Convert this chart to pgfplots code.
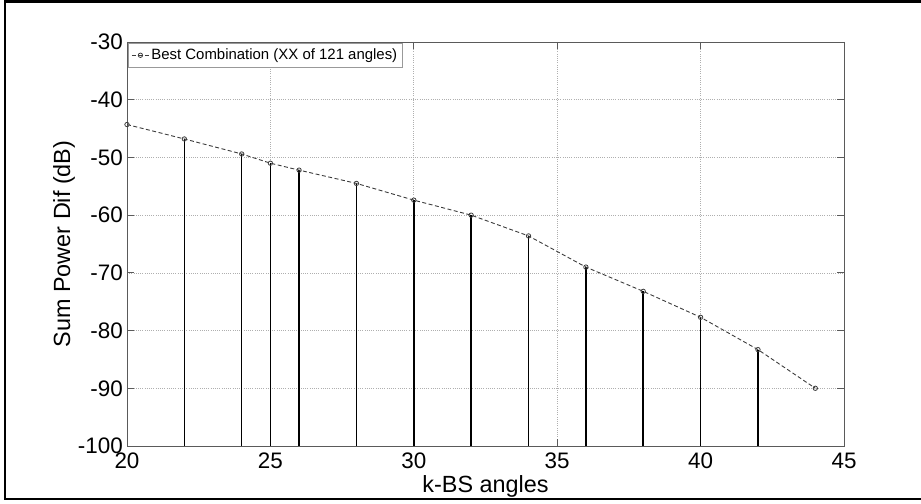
\documentclass[border=0pt]{standalone}
\usepackage{fontspec}
\setmainfont{Liberation Sans}
\usepackage{pgfplots}
\pgfplotsset{compat=1.18}

\definecolor{axisgray}{RGB}{90,90,90}
\definecolor{linegray}{RGB}{60,60,60}
\definecolor{gridgray}{RGB}{175,175,175}

\begin{document}
\begin{tikzpicture}
\path[use as bounding box] (0bp,0bp) rectangle (921bp,504bp);
% outer frame (open on the right)
\draw[line width=2.2bp,black] (921bp,502.5bp) -- (5bp,502.5bp) -- (5bp,5bp) -- (921bp,5bp);

\begin{axis}[
  at={(127bp,58bp)}, anchor=south west,
  scale only axis, width=717bp, height=404bp,
  xmin=20, xmax=45, ymin=-100, ymax=-30,
  xtick={20,25,...,45}, ytick={-100,-90,...,-30},
  tick align=inside, major tick length=7bp,
  axis line style={axisgray, line width=0.9bp},
  tick style={axisgray, line width=0.8bp},
  grid=major,
  major grid style={gridgray, dash pattern=on 0.8bp off 1.4bp, line width=0.7bp},
  /pgf/number format/assume math mode=true,
  ticklabel style={font=\fontsize{22.5}{26}\selectfont, inner sep=0pt},
  xticklabel style={anchor=north, yshift=-7bp},
  yticklabel style={anchor=east, xshift=-4bp},
  xlabel={k-BS angles},
  ylabel={Sum Power Dif (dB)},
  label style={font=\fontsize{23.5}{27}\selectfont, inner sep=0pt},
  xlabel style={at={(axis description cs:0.5,-0.1139)}, anchor=base},
  ylabel style={at={(axis description cs:-0.0795,0.5)}, anchor=base, rotate=0},
  unbounded coords=jump,
  legend style={at={(axis description cs:0.0015,0.997)}, anchor=north west,
    draw=gray!80, line width=0.8bp, fill=white,
    font=\fontsize{15}{18}\selectfont, inner xsep=3bp, inner ysep=3.5bp,
    row sep=0pt},
  legend cell align=left,
]
% stems from the bottom of the axis up to each value
\addplot[black, line width=1.5bp, forget plot] coordinates {
  (22,-100) (22,-46.8) (22,nan)
  (24,-100) (24,-49.4) (24,nan)
  (25,-100) (25,-51.0) (25,nan)
  (26,-100) (26,-52.2) (26,nan)
  (28,-100) (28,-54.5) (28,nan)
  (30,-100) (30,-57.4) (30,nan)
  (32,-100) (32,-60.0) (32,nan)
  (34,-100) (34,-63.6) (34,nan)
  (36,-100) (36,-69.0) (36,nan)
  (38,-100) (38,-73.2) (38,nan)
  (40,-100) (40,-77.7) (40,nan)
  (42,-100) (42,-83.3)
};
% best combination curve
\addplot[linegray, line width=0.9bp, dash pattern=on 4bp off 2.5bp,
  mark=o, mark size=2.2bp, mark options={solid, line width=0.8bp}] coordinates {
  (20,-44.3) (22,-46.8) (24,-49.4) (25,-51.0) (26,-52.2) (28,-54.5)
  (30,-57.4) (32,-60.0) (34,-63.6) (36,-69.0) (38,-73.2) (40,-77.7)
  (42,-83.3) (44,-90.0)
};
\addlegendentry{Best Combination (XX of 121 angles)}
\end{axis}
\end{tikzpicture}
\end{document}
